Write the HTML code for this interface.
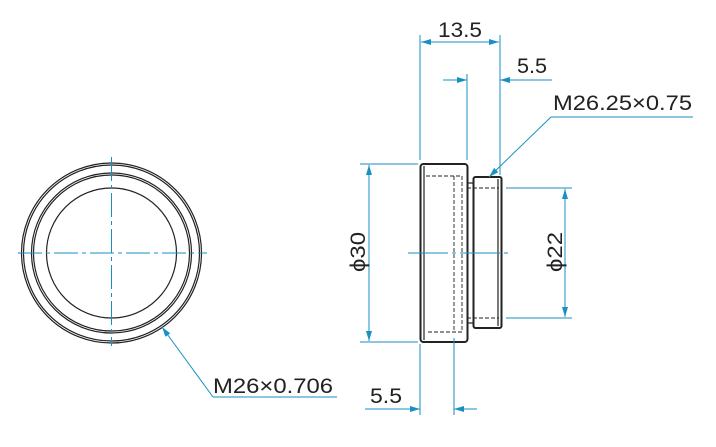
<!DOCTYPE html>
<html><head><meta charset="utf-8"><style>html,body{margin:0;padding:0;background:#fff}svg{display:block}</style></head>
<body>
<svg width="716" height="447" viewBox="0 0 716 447" xmlns="http://www.w3.org/2000/svg" font-family="Liberation Sans, sans-serif" font-size="21" fill="#222">
<defs>
<marker id="a" viewBox="0 0 10 6" refX="10" refY="3" markerWidth="10" markerHeight="6" orient="auto-start-reverse" markerUnits="userSpaceOnUse"><path d="M0,0 L10,3 L0,6z" fill="#1a8fc4"/></marker>
</defs>
<g fill="none" stroke="#222" stroke-width="1.2">
<circle cx="111.5" cy="253" r="90"/><circle cx="111.5" cy="253" r="88"/>
<circle cx="111.5" cy="253" r="80"/><circle cx="111.5" cy="253" r="78"/>
<circle cx="111.5" cy="253" r="65"/>
<rect x="420.5" y="164" width="47" height="178" rx="3" stroke-width="2"/>
<rect x="473.5" y="177" width="28" height="151" rx="2" stroke-width="2"/>
<line x1="467" y1="183" x2="473" y2="183"/><line x1="467" y1="323" x2="473" y2="323"/>
<line x1="424" y1="166" x2="424" y2="340"/><line x1="498" y1="179" x2="498" y2="326"/>
</g>
<g fill="none" stroke="#222" stroke-width="0.9" stroke-dasharray="4,2">
<polyline points="426,176 462,176 462,332 426,332"/>
<line x1="454" y1="176" x2="454" y2="330"/>
<line x1="467" y1="188" x2="499" y2="188"/><line x1="467" y1="318" x2="499" y2="318"/>
</g>
<g fill="none" stroke="#1a8fc4" stroke-width="1">
<line x1="18" y1="253" x2="207" y2="253" stroke-dasharray="24,4,4,4"/>
<line x1="111.5" y1="157" x2="111.5" y2="346" stroke-dasharray="24,4,4,4"/>
<line x1="408" y1="253" x2="510" y2="253" stroke-dasharray="40,4,4,4"/>
<line x1="420" y1="35" x2="420" y2="160"/><line x1="500" y1="35" x2="500" y2="175"/>
<line x1="421" y1="42" x2="499" y2="42" marker-start="url(#a)" marker-end="url(#a)"/>
<line x1="467" y1="74" x2="467" y2="160"/>
<line x1="443" y1="80" x2="467" y2="80" marker-end="url(#a)"/>
<line x1="552" y1="80" x2="500" y2="80" marker-end="url(#a)"/>
<polyline points="693,117 551,117"/><line x1="551" y1="117" x2="489" y2="177" marker-end="url(#a)"/>
<line x1="360" y1="164" x2="418" y2="164"/><line x1="360" y1="342" x2="418" y2="342"/>
<line x1="369" y1="165" x2="369" y2="341" marker-start="url(#a)" marker-end="url(#a)"/>
<line x1="506" y1="188" x2="572" y2="188"/><line x1="506" y1="318" x2="572" y2="318"/>
<line x1="565" y1="189" x2="565" y2="317" marker-start="url(#a)" marker-end="url(#a)"/>
<line x1="420" y1="344" x2="420" y2="415"/><line x1="454" y1="338" x2="454" y2="415"/>
<line x1="365" y1="409" x2="420" y2="409" marker-end="url(#a)"/>
<line x1="477" y1="409" x2="454" y2="409" marker-end="url(#a)"/>
<line x1="337" y1="397" x2="213" y2="397"/>
<line x1="213" y1="397" x2="162" y2="327" marker-end="url(#a)"/>
</g>
<text x="438" y="37" textLength="44" lengthAdjust="spacingAndGlyphs">13.5</text>
<text x="517" y="73" textLength="30" lengthAdjust="spacingAndGlyphs">5.5</text>
<text x="553" y="110" textLength="139" lengthAdjust="spacingAndGlyphs">M26.25×0.75</text>
<text x="370" y="403" textLength="32" lengthAdjust="spacingAndGlyphs">5.5</text>
<text x="213" y="393" textLength="120" lengthAdjust="spacingAndGlyphs">M26×0.706</text>
<text transform="translate(365,272) rotate(-90)" textLength="40" lengthAdjust="spacingAndGlyphs">ϕ30</text>
<text transform="translate(562,272) rotate(-90)" textLength="40" lengthAdjust="spacingAndGlyphs">ϕ22</text>
</svg>
</body></html>
